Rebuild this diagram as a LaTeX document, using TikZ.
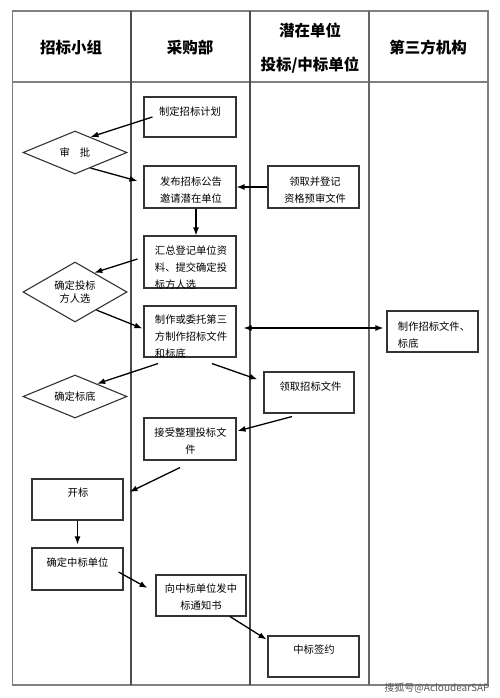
\documentclass[tikz,border=0pt]{standalone}
\usepackage{fontspec}
\setmainfont{Noto Sans CJK SC}
\usetikzlibrary{shapes.geometric,arrows.meta}
\tikzset{
	lane/.style={line width=1.1pt, color=black!50},
	lanehead/.style={inner sep=0pt, font=\fontsize{15.5}{34}\selectfont\bfseries, align=center},
	box/.style={draw=black!80, line width=1.1pt, rectangle, inner sep=0pt},
	boxtext/.style={inner sep=0pt, font=\fontsize{10.3}{17}\selectfont},
	choice/.style={draw=black!80, line width=1.1pt, diamond, aspect=1.8, inner sep=0pt, minimum width=104pt, font=\fontsize{10.3}{13}\selectfont, align=center},
	flow/.style={line width=1.3pt, -{Latex[length=8pt,width=6pt]}},
}

\begin{document}
\begin{tikzpicture}[x=1pt, y=-1pt]
			%%%%% START %%%%%
			\useasboundingbox (0, 0) rectangle (500, 698);
			
			\draw[lane] (12.7, 11) rectangle (488, 685);
			\draw[lane] (12.7, 82) -- (488, 82);
			\draw[lane, color=black!70] (131, 11) -- (131, 685);
			\draw[lane, color=black!70] (250, 11) -- (250, 685);
			\draw[lane, color=black!60] (369, 11) -- (369, 685);
			
			\node[lanehead] (group) at (71, 48) {招标小组};
			\node[lanehead] (purchase) at (190, 48) {采购部};
			\node[lanehead] (bidder) at (310, 48) {潜在单位\\投标/中标单位};
			\node[lanehead] (agency) at (428, 48) {第三方机构};
			
			% boxes
			\node[box, minimum width=92pt, minimum height=40pt] (plan) at (190, 117) {};
			\node[boxtext] (plan-t) at (190, 112) {制定招标计划};
			
			\node[box, minimum width=92pt, minimum height=42pt] (publish) at (190, 187) {};
			\node[boxtext, align=center] (publish-t) at (191, 190.5) {发布招标公告\\邀请潜在单位};
			
			\node[box, minimum width=91pt, minimum height=42pt] (prequal) at (313.5, 187) {};
			\node[boxtext, align=center] (prequal-t) at (315, 190.5) {领取并登记\\资格预审文件};
			
			\node[box, minimum width=92pt, minimum height=52pt] (collect) at (190, 262) {};
			\node[boxtext, align=left] (collect-t) at (191, 267.5) {汇总登记单位资\\料、提交确定投\\标方人选};
			
			\node[box, minimum width=92pt, minimum height=51pt] (make) at (190, 331.5) {};
			\node[boxtext, align=left] (make-t) at (191, 337) {制作或委托第三\\方制作招标文件\\和标底};
			
			\node[box, minimum width=91pt, minimum height=41pt] (third) at (432.5, 331.5) {};
			\node[boxtext, align=left] (third-t) at (434, 335) {制作招标文件、\\标底};
			
			\node[box, minimum width=90pt, minimum height=41pt] (getdoc) at (309, 392.5) {};
			\node[boxtext] (getdoc-t) at (310.5, 387) {领取招标文件};
			
			\node[box, minimum width=92pt, minimum height=42pt] (accept) at (190, 439) {};
			\node[boxtext, align=center] (accept-t) at (190.5, 441.5) {接受整理投标文\\件};
			
			\node[box, minimum width=91pt, minimum height=41pt] (open) at (77.5, 499.5) {};
			\node[boxtext] (open-t) at (78, 493) {开标};
			
			\node[box, minimum width=91pt, minimum height=42pt] (win) at (77.5, 569) {};
			\node[boxtext] (win-t) at (77.5, 563) {确定中标单位};
			
			\node[box, minimum width=90pt, minimum height=41pt] (notice) at (201, 595.5) {};
			\node[boxtext, align=center] (notice-t) at (201, 597.5) {向中标单位发中\\标通知书};
			
			\node[box, minimum width=91pt, minimum height=41pt] (sign) at (313.5, 656.5) {};
			\node[boxtext] (sign-t) at (314, 650) {中标签约};
			
			% diamonds
			\node[choice, minimum height=43pt] (approve) at (75, 152.5) {审\hspace{10pt}批};
			\node[choice, minimum height=60pt] (pick) at (75, 292) {确定投标\\方人选};
			\node[choice, minimum height=43pt] (base) at (75, 396.5) {确定标底};
			
			% arrows
			\draw[flow] ([xshift=9pt]plan.west) -- (approve.45);
			\draw[flow] (approve.-45) -- ([xshift=-6pt, yshift=6pt]publish.west);
			\draw[flow] (prequal.west) -- (publish.east);
			\draw[flow] ([xshift=6pt]publish.south) -- ([xshift=6pt]collect.north);
			\draw[flow] ([xshift=-6pt, yshift=3pt]collect.west) -- (pick.45);
			\draw[flow] (pick.-40) -- ([xshift=-1pt, yshift=3pt]make.west);
			\draw[flow, {Latex[length=8pt,width=6pt]}-{Latex[length=8pt,width=6pt]}] ([xshift=7pt, yshift=3.5pt]make.east) -- ([xshift=-3pt, yshift=3.5pt]third.west);
			\draw[flow] ([xshift=-32pt, yshift=-6pt]make.south) -- (base.30);
			\draw[flow] ([xshift=22pt, yshift=-6pt]make.south) -- ([xshift=-6pt, yshift=-8pt]getdoc.north west);
			\draw[flow] ([xshift=-17pt, yshift=-3pt]getdoc.south) -- ([xshift=1pt, yshift=8pt]accept.east);
			\draw[flow] ([xshift=-10pt, yshift=-7pt]accept.south) -- ([xshift=6pt, yshift=7.5pt]open.east);
			\draw[flow] (open.south) -- ([yshift=3pt]win.north);
			\draw[flow] ([xshift=-5pt, yshift=-3pt]win.east) -- ([xshift=-8pt, yshift=7.5pt]notice.west);
			\draw[flow] ([xshift=29pt]notice.south) -- ([xshift=-1pt, yshift=-4pt]sign.north west);
			
			\node[inner sep=0pt, font=\fontsize{10}{12}\selectfont, color=black!65] (mark) at (437, 688) {搜狐号@AcloudearSAP};
			
			%%%%% END %%%%%
		\end{tikzpicture}
\end{document}
